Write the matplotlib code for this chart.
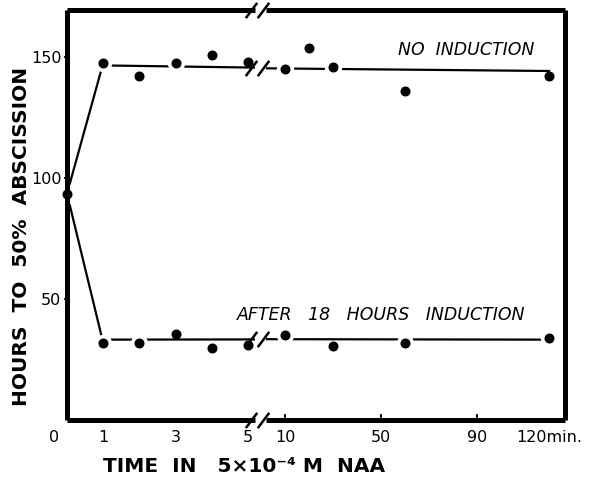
import numpy as np
import matplotlib
matplotlib.use("Agg")
import matplotlib.pyplot as plt

# ---------------- data ----------------
start_value = 93.5                      # common point at time 0

short_x = [1, 2, 3, 4, 5]               # minutes (expanded segment)
upper_short = [147.5, 142, 147.5, 151, 148]
lower_short = [31.8, 31.8, 35.5, 29.8, 31]

upper_long_x = [10, 20, 30, 60, 120]    # minutes (compressed segment)
upper_long = [145, 153.7, 146, 136, 142]
lower_long_x = [10, 30, 60, 120]
lower_long = [35, 30.6, 31.8, 33.9]

# hand-drawn mean lines
fit_short_x = [1, 5.19]
upper_fit_short = [146.5, 145.6]
lower_fit_short = [33.2, 33.3]
fit_long_x = [2.1, 120]
upper_fit_long = [145.3, 144.2]
lower_fit_long = [33.4, 33.2]

short_ticks = [1, 3, 5]
short_ticklabels = ["1", "3", "5"]
long_ticks = [10, 50, 90, 120]
long_ticklabels = ["10", "50", "90", "120min."]
y_ticks = [50, 100, 150]
y_ticklabels = ["50", "100", "150"]

# ---------------- figure ----------------
W, H = 590, 478
fig = plt.figure(figsize=(W / 100, H / 100), dpi=100)

def px_rect(x0, x1, ytop, ybot):
    return [x0 / W, 1 - ybot / H, (x1 - x0) / W, (ybot - ytop) / H]

ax1 = fig.add_axes(px_rect(67, 255, 10, 420))
ax2 = fig.add_axes(px_rect(266, 565, 10, 420))

ax1.set_xlim(0, 5.19)
ax2.set_xlim(2.08, 126.67)
for ax in (ax1, ax2):
    ax.set_ylim(0, 169.4)
    ax.patch.set_visible(False)
    for s in ax.spines.values():
        s.set_linewidth(3.6)
        s.set_zorder(5)
        s.set_capstyle("butt")

ax1.spines["right"].set_visible(False)
ax2.spines["left"].set_visible(False)

LW = 1.6
MS = 6.2
HALO = 11.5

def fit_at(xs, ys, x):
    return np.interp(x, xs, ys)

def draw_points(ax, x, y, fx, fy):
    x = np.asarray(x, float)
    y = np.asarray(y, float)
    near = np.abs(y - fit_at(fx, fy, x)) < 2.0
    ax.plot(x[near], y[near], "o", ms=HALO, color="white", mec="white",
            zorder=3, ls="none")
    ax.plot(x, y, "o", ms=MS, color="black", zorder=6, ls="none", clip_on=False)

# rising / falling lines from time 0
for vals in (upper_short, lower_short):
    ax1.plot([0, short_x[0]], [start_value, vals[0]], color="black", lw=LW, zorder=2,
             solid_capstyle="butt")
ax1.plot([0], [start_value], "o", ms=HALO + 2, color="white", zorder=3)
ax1.plot([0], [start_value], "o", ms=MS, color="black", zorder=6, clip_on=False)

# mean lines
ax1.plot(fit_short_x, upper_fit_short, color="black", lw=LW, zorder=2)
ax1.plot(fit_short_x, lower_fit_short, color="black", lw=LW, zorder=2)
ax2.plot(fit_long_x, upper_fit_long, color="black", lw=LW, zorder=2)
ax2.plot(fit_long_x, lower_fit_long, color="black", lw=LW, zorder=2)

draw_points(ax1, short_x, upper_short, fit_short_x, upper_fit_short)
draw_points(ax1, short_x, lower_short, fit_short_x, lower_fit_short)
draw_points(ax2, upper_long_x, upper_long, fit_long_x, upper_fit_long)
draw_points(ax2, lower_long_x, lower_long, fit_long_x, lower_fit_long)

# break marks
slash = dict(marker=[(-0.75, -1), (0.75, 1)], markersize=11, linestyle="none",
             color="k", mec="k", mew=1.8, clip_on=False, zorder=7)
x1b = 1 - 4 / 188
x2b = -3 / 299
for yy in (0, 1):
    ax1.plot([x1b], [yy], transform=ax1.transAxes, **slash)
    ax2.plot([x2b], [yy], transform=ax2.transAxes, **slash)
for yy in (upper_fit_short[-1], lower_fit_short[-1]):
    ax1.plot([x1b], [yy], transform=ax1.get_yaxis_transform(), **slash)
for yy in (upper_fit_long[0], lower_fit_long[0]):
    ax2.plot([x2b], [yy], transform=ax2.get_yaxis_transform(), **slash)

# ticks
tick_font = dict(fontsize=11.5, family="DejaVu Sans")
ax1.set_yticks(y_ticks)
ax1.set_yticklabels(y_ticklabels, **tick_font)
ax1.tick_params(axis="y", direction="inout", length=5, width=1.3, pad=1.5)
ax2.set_yticks([])

ax1.set_xticks(short_ticks)
ax1.set_xticklabels(short_ticklabels, **tick_font)
ax1.tick_params(axis="x", length=0, pad=7)
ax1.annotate("0", xy=(0, 0), xycoords=ax1.get_xaxis_transform(),
             xytext=(-9, -7), textcoords="offset points", ha="center", va="top",
             annotation_clip=False, **tick_font)

ax2.set_xticks(long_ticks)
ax2.set_xticklabels(long_ticklabels, **tick_font)
ax2.tick_params(axis="x", direction="in", length=4, width=1.3, pad=7)
ax2.xaxis.get_major_ticks()[-1].tick1line.set_visible(False)
for t in ax2.get_xticklabels()[-1:]:
    t.set_x(121.5)

# curve labels
lab_font = dict(fontsize=12.5, style="italic", family="DejaVu Sans", fontweight="medium")
ax2.text(57.1, 152.9, "NO  INDUCTION", ha="left", va="center", **lab_font)
ax1.text(4.70, 43.4, "AFTER   18   HOURS   INDUCTION", ha="left", va="center",
         clip_on=False, **lab_font)

# axis titles
title_font = dict(fontsize=14.5, fontweight="bold", family="DejaVu Sans")
fig.text(22 / W, 1 - 236 / H, "HOURS  TO  50%  ABSCISSION", rotation=90,
         ha="center", va="center", **title_font)
fig.text(103 / W, 1 - 466 / H, "TIME  IN   5\u00d710\u207b\u2074 M  NAA",
         ha="left", va="center", **title_font)

fig.savefig("out.png", dpi=100)
